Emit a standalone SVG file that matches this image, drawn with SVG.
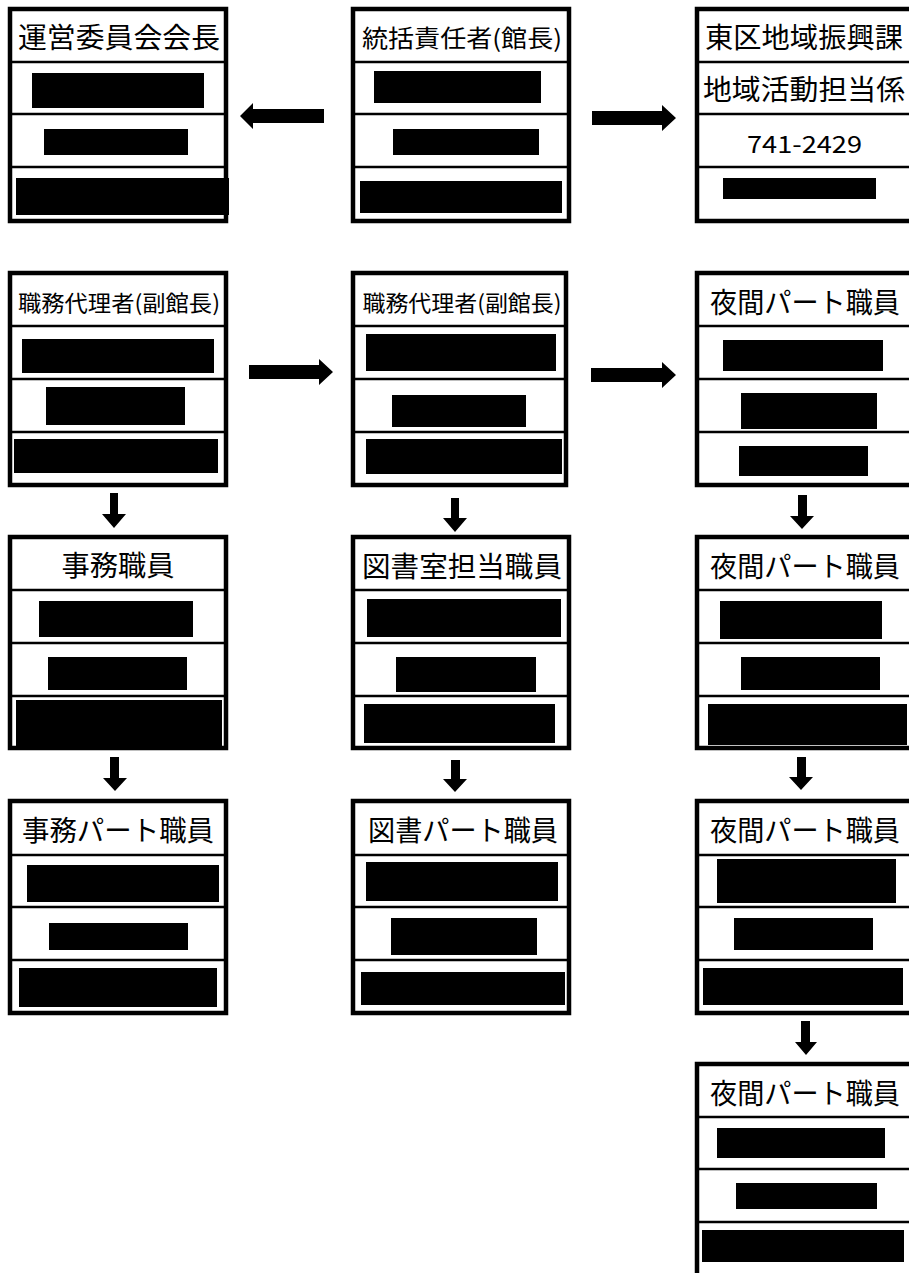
<svg xmlns="http://www.w3.org/2000/svg" width="909" height="1273" viewBox="0 0 909 1273">
<style>
.box{fill:#fff;stroke:#000;stroke-width:4.5}
.div{stroke:#000;stroke-width:2.5}
.bar{fill:#000}
.t{font-family:"Noto Sans CJK JP","Noto Sans",sans-serif;fill:#000;text-anchor:middle;dominant-baseline:central}
.big{font-size:28px}
.mid{font-size:24px}
.sm{font-size:22px}
.arr{fill:#000}
</style>
<rect width="909" height="1273" fill="#fff"/>

<g id="connectors">
  <polygon class="arr" points="324,109 253,109 253,103 240,116 253,129 253,123 324,123"/>
  <polygon class="arr" points="592,111 662,111 662,105 676,118 662,131 662,125 592,125"/>
  <polygon class="arr" points="249,365 319,365 319,359 333,372 319,385 319,379 249,379"/>
  <polygon class="arr" points="591,368 662,368 662,362 676,375 662,388 662,382 591,382"/>
  <polygon class="arr" points="110,493 118,493 118,514 126,514 114,528 102,514 110,514"/>
  <polygon class="arr" points="451,498 459,498 459,518 467,518 455,532 443,518 451,518"/>
  <polygon class="arr" points="798,495 807,495 807,516 814,516 802,529 790,516 798,516"/>
  <polygon class="arr" points="110,757 119,757 119,778 127,778 115,791 103,778 110,778"/>
  <polygon class="arr" points="451,760 460,760 460,779 467,779 455,792 443,779 451,779"/>
  <polygon class="arr" points="797,757 806,757 806,777 813,777 801,790 789,777 797,777"/>
  <polygon class="arr" points="801,1021 810,1021 810,1042 817,1042 806,1055 795,1042 801,1042"/>
</g>

<g id="node-unei">
  <rect class="box" x="10" y="9" width="216" height="212"/>
  <line class="div" x1="10" y1="62" x2="226" y2="62"/>
  <line class="div" x1="10" y1="114" x2="226" y2="114"/>
  <line class="div" x1="10" y1="167" x2="226" y2="167"/>
  <text class="t big" x="119" y="36" textLength="202" lengthAdjust="spacingAndGlyphs">運営委員会会長</text>
  <rect class="bar" x="32" y="73" width="172" height="35"/>
  <rect class="bar" x="44" y="129" width="144" height="26"/>
  <rect class="bar" x="16" y="178" width="213" height="37"/>
</g>

<g id="node-tokatsu">
  <rect class="box" x="353" y="9" width="216" height="212"/>
  <line class="div" x1="353" y1="62" x2="569" y2="62"/>
  <line class="div" x1="353" y1="114" x2="569" y2="114"/>
  <line class="div" x1="353" y1="167" x2="569" y2="167"/>
  <text class="t mid" x="462" y="36" textLength="200" lengthAdjust="spacingAndGlyphs">統括責任者(館長)</text>
  <rect class="bar" x="374" y="71" width="167" height="32"/>
  <rect class="bar" x="393" y="129" width="146" height="26"/>
  <rect class="bar" x="360" y="181" width="202" height="32"/>
</g>

<g id="node-higashiku">
  <rect class="box" x="697" y="9" width="230" height="212"/>
  <line class="div" x1="697" y1="62" x2="927" y2="62"/>
  <line class="div" x1="697" y1="114" x2="927" y2="114"/>
  <line class="div" x1="697" y1="167" x2="927" y2="167"/>
  <text class="t big" x="804" y="36" textLength="198" lengthAdjust="spacingAndGlyphs">東区地域振興課</text>
  <text class="t big" x="804" y="88" textLength="202" lengthAdjust="spacingAndGlyphs">地域活動担当係</text>
  <text class="t mid" x="804.5" y="142" textLength="115" lengthAdjust="spacingAndGlyphs">741-2429</text>
  <rect class="bar" x="723" y="178" width="153" height="21"/>
</g>

<g id="node-shokumu1">
  <rect class="box" x="10" y="273" width="216" height="212"/>
  <line class="div" x1="10" y1="326" x2="226" y2="326"/>
  <line class="div" x1="10" y1="379" x2="226" y2="379"/>
  <line class="div" x1="10" y1="432" x2="226" y2="432"/>
  <text class="t sm" x="119" y="301" textLength="202" lengthAdjust="spacingAndGlyphs">職務代理者(副館長)</text>
  <rect class="bar" x="22" y="339" width="192" height="34"/>
  <rect class="bar" x="46" y="387" width="139" height="38"/>
  <rect class="bar" x="14" y="439" width="204" height="34"/>
</g>

<g id="node-shokumu2">
  <rect class="box" x="353" y="273" width="213" height="212"/>
  <line class="div" x1="353" y1="326" x2="566" y2="326"/>
  <line class="div" x1="353" y1="379" x2="566" y2="379"/>
  <line class="div" x1="353" y1="432" x2="566" y2="432"/>
  <text class="t sm" x="462" y="301" textLength="199" lengthAdjust="spacingAndGlyphs">職務代理者(副館長)</text>
  <rect class="bar" x="366" y="334" width="190" height="37"/>
  <rect class="bar" x="392" y="395" width="134" height="32"/>
  <rect class="bar" x="366" y="439" width="196" height="35"/>
</g>

<g id="node-yakan1">
  <rect class="box" x="697" y="273" width="230" height="212"/>
  <line class="div" x1="697" y1="326" x2="927" y2="326"/>
  <line class="div" x1="697" y1="379" x2="927" y2="379"/>
  <line class="div" x1="697" y1="432" x2="927" y2="432"/>
  <text class="t big" x="805" y="301" textLength="190" lengthAdjust="spacingAndGlyphs">夜間パート職員</text>
  <rect class="bar" x="723" y="340" width="160" height="31"/>
  <rect class="bar" x="741" y="393" width="136" height="36"/>
  <rect class="bar" x="739" y="446" width="129" height="30"/>
</g>

<g id="node-jimu">
  <rect class="box" x="10" y="537" width="216" height="211"/>
  <line class="div" x1="10" y1="590" x2="226" y2="590"/>
  <line class="div" x1="10" y1="643" x2="226" y2="643"/>
  <line class="div" x1="10" y1="696" x2="226" y2="696"/>
  <text class="t big" x="118" y="564" textLength="113" lengthAdjust="spacingAndGlyphs">事務職員</text>
  <rect class="bar" x="39" y="601" width="154" height="36"/>
  <rect class="bar" x="48" y="657" width="139" height="33"/>
  <rect class="bar" x="16" y="700" width="206" height="46"/>
</g>

<g id="node-toshoshitsu">
  <rect class="box" x="353" y="537" width="216" height="211"/>
  <line class="div" x1="353" y1="590" x2="569" y2="590"/>
  <line class="div" x1="353" y1="643" x2="569" y2="643"/>
  <line class="div" x1="353" y1="696" x2="569" y2="696"/>
  <text class="t big" x="462" y="565" textLength="200" lengthAdjust="spacingAndGlyphs">図書室担当職員</text>
  <rect class="bar" x="367" y="599" width="194" height="38"/>
  <rect class="bar" x="396" y="657" width="140" height="35"/>
  <rect class="bar" x="364" y="704" width="191" height="39"/>
</g>

<g id="node-yakan2">
  <rect class="box" x="697" y="537" width="230" height="211"/>
  <line class="div" x1="697" y1="590" x2="927" y2="590"/>
  <line class="div" x1="697" y1="643" x2="927" y2="643"/>
  <line class="div" x1="697" y1="696" x2="927" y2="696"/>
  <text class="t big" x="805" y="565" textLength="190" lengthAdjust="spacingAndGlyphs">夜間パート職員</text>
  <rect class="bar" x="720" y="601" width="162" height="38"/>
  <rect class="bar" x="741" y="657" width="139" height="33"/>
  <rect class="bar" x="708" y="704" width="199" height="41"/>
</g>

<g id="node-jimupart">
  <rect class="box" x="10" y="801" width="216" height="212"/>
  <line class="div" x1="10" y1="855" x2="226" y2="855"/>
  <line class="div" x1="10" y1="907" x2="226" y2="907"/>
  <line class="div" x1="10" y1="960" x2="226" y2="960"/>
  <text class="t big" x="118" y="829" textLength="192" lengthAdjust="spacingAndGlyphs">事務パート職員</text>
  <rect class="bar" x="27" y="865" width="192" height="37"/>
  <rect class="bar" x="49" y="923" width="139" height="27"/>
  <rect class="bar" x="19" y="968" width="198" height="39"/>
</g>

<g id="node-toshopart">
  <rect class="box" x="353" y="801" width="216" height="212"/>
  <line class="div" x1="353" y1="855" x2="569" y2="855"/>
  <line class="div" x1="353" y1="907" x2="569" y2="907"/>
  <line class="div" x1="353" y1="960" x2="569" y2="960"/>
  <text class="t big" x="463" y="829" textLength="190" lengthAdjust="spacingAndGlyphs">図書パート職員</text>
  <rect class="bar" x="366" y="862" width="192" height="39"/>
  <rect class="bar" x="391" y="918" width="146" height="37"/>
  <rect class="bar" x="361" y="972" width="204" height="33"/>
</g>

<g id="node-yakan3">
  <rect class="box" x="697" y="801" width="230" height="212"/>
  <line class="div" x1="697" y1="855" x2="927" y2="855"/>
  <line class="div" x1="697" y1="907" x2="927" y2="907"/>
  <line class="div" x1="697" y1="960" x2="927" y2="960"/>
  <text class="t big" x="805" y="829" textLength="190" lengthAdjust="spacingAndGlyphs">夜間パート職員</text>
  <rect class="bar" x="717" y="859" width="179" height="44"/>
  <rect class="bar" x="734" y="918" width="139" height="32"/>
  <rect class="bar" x="703" y="968" width="200" height="37"/>
</g>

<g id="node-yakan4">
  <rect class="box" x="697" y="1064" width="230" height="214"/>
  <line class="div" x1="697" y1="1117" x2="927" y2="1117"/>
  <line class="div" x1="697" y1="1169" x2="927" y2="1169"/>
  <line class="div" x1="697" y1="1222" x2="927" y2="1222"/>
  <text class="t big" x="805" y="1092" textLength="190" lengthAdjust="spacingAndGlyphs">夜間パート職員</text>
  <rect class="bar" x="717" y="1128" width="168" height="30"/>
  <rect class="bar" x="736" y="1183" width="141" height="26"/>
  <rect class="bar" x="702" y="1230" width="202" height="32"/>
</g>
</svg>
